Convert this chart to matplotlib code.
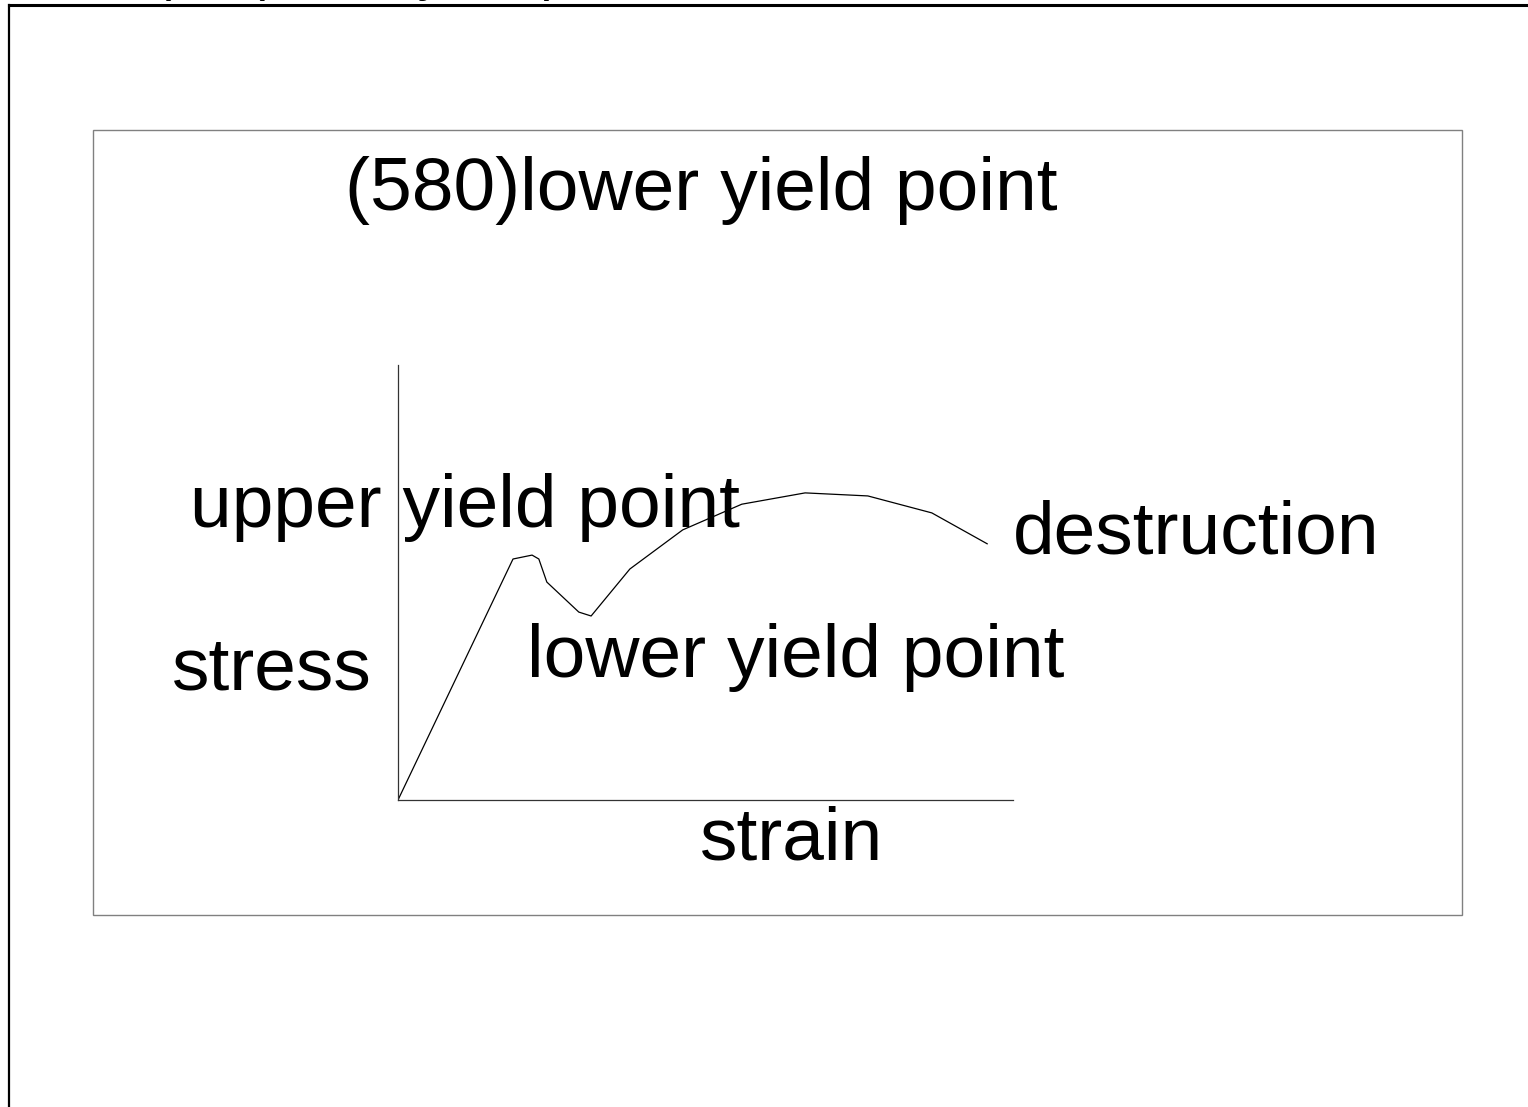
import matplotlib
matplotlib.use("Agg")
import matplotlib.pyplot as plt
from matplotlib.patches import Rectangle
from matplotlib.lines import Line2D

# stress-strain curve, arbitrary units (axis spans 0..100 both ways)
strain = [0, 18.7, 21.8, 22.9, 24.2, 29.4, 31.4, 37.7, 46.3, 55.9, 66.2, 76.4, 86.8, 95.8]
stress = [0, 55.4, 56.3, 55.4, 50.1, 43.2, 42.3, 53.1, 62.1, 68.0, 70.6, 69.9, 66.0, 58.9]

title_text = "(580)lower yield point"
labels = ["upper yield point", "stress", "lower yield point", "destruction", "strain"]

W, H = 1528, 1107
FONT = "Liberation Sans"


def fx(px):
    return px / W


def fy(py):
    return 1 - py / H


fig = plt.figure(figsize=(W / 100, H / 100), dpi=100)

# page frame (cropped screenshot); only the bottom of the page title shows above it
fig.text(fx(154), fy(-10), title_text, fontsize=38, family=FONT, va="baseline")
fig.add_artist(Line2D([fx(9), fx(9)], [fy(5), 0], color="black", lw=1.6))
fig.add_artist(Line2D([fx(9), 1], [fy(5), fy(5)], color="black", lw=2.2))

# inner box
fig.add_artist(Rectangle((fx(93), fy(915)), fx(1462) - fx(93), fy(130) - fy(915),
                         transform=fig.transFigure, fill=False, edgecolor="#808080", lw=1.0))

ax = fig.add_axes([fx(398), fy(800), fx(1013) - fx(398), fy(365) - fy(800)])
ax.plot(strain, stress, color="black", lw=0.9)
ax.set_xlim(0, 100)
ax.set_ylim(0, 100)
ax.spines["top"].set_visible(False)
ax.spines["right"].set_visible(False)
for s in ("left", "bottom"):
    ax.spines[s].set_color("#333333")
    ax.spines[s].set_linewidth(0.9)
ax.set_xticks([])
ax.set_yticks([])
ax.patch.set_alpha(0)

fs = 54
fig.text(fx(345), fy(210), title_text, fontsize=fs, family=FONT, va="baseline")
pos = [(190, 527), (172, 690), (527, 677), (1013, 553), (700, 860)]
for lab, (px, py) in zip(labels, pos):
    fig.text(fx(px), fy(py), lab, fontsize=fs, family=FONT, va="baseline")

fig.savefig("out.png", dpi=100)
